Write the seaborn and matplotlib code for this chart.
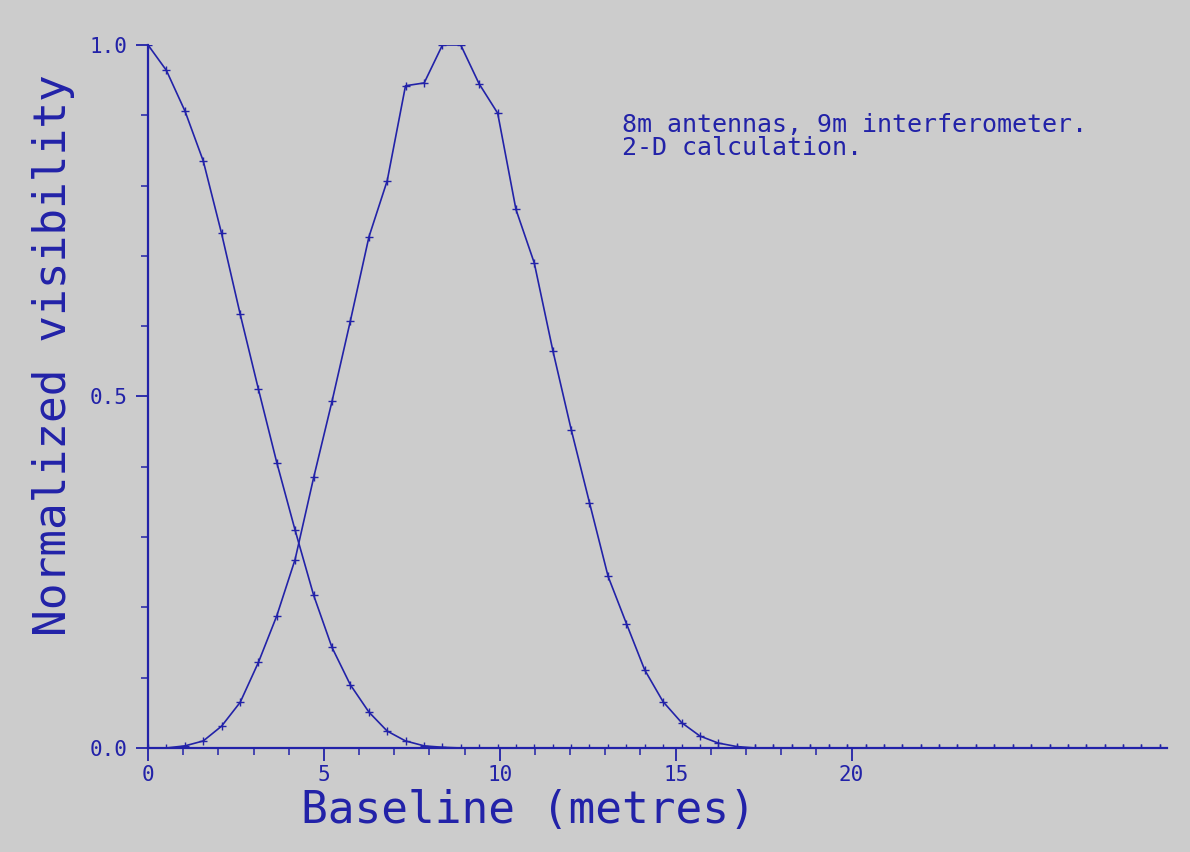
"""
Normalized visibility vs baseline for an 8m antenna / 9m interferometer
"""

import matplotlib
matplotlib.use("Agg")
import matplotlib.pyplot as plt
import seaborn as sns
import pandas as pd
from matplotlib.ticker import FixedLocator, MultipleLocator

# Baseline samples (metres)
baseline = [
    0.00, 0.52, 1.05, 1.57, 2.09, 2.62, 3.14, 3.66, 4.18, 4.71,
    5.23, 5.75, 6.28, 6.80, 7.32, 7.85, 8.37, 8.89, 9.41, 9.94,
    10.46, 10.98, 11.51, 12.03, 12.55, 13.08, 13.60, 14.12, 14.64, 15.17,
    15.69, 16.21, 16.74, 17.26, 17.78, 18.31, 18.83, 19.35, 19.87, 20.40,
    20.92, 21.44, 21.97, 22.49, 23.01, 23.54, 24.06, 24.58, 25.10, 25.63,
    26.15, 26.67, 27.20, 27.72, 28.24, 28.77,
]

# single antenna autocorrelation
antenna_vis = [
    1.000, 0.964, 0.906, 0.835, 0.732, 0.617, 0.510, 0.406, 0.310, 0.217,
    0.143, 0.090, 0.051, 0.024, 0.010, 0.003, 0.001, 0.000, 0.000, 0.000,
    0.000, 0.000, 0.000, 0.000, 0.000, 0.000, 0.000, 0.000, 0.000, 0.000,
    0.000, 0.000, 0.000, 0.000, 0.000, 0.000, 0.000, 0.000, 0.000, 0.000,
    0.000, 0.000, 0.000, 0.000, 0.000, 0.000, 0.000, 0.000, 0.000, 0.000,
    0.000, 0.000, 0.000, 0.000, 0.000, 0.000,
]

# interferometer cross term
interf_vis = [
    0.000, 0.000, 0.003, 0.010, 0.031, 0.065, 0.122, 0.188, 0.268, 0.385,
    0.493, 0.607, 0.727, 0.807, 0.942, 0.946, 1.000, 1.000, 0.945, 0.903,
    0.766, 0.690, 0.565, 0.453, 0.349, 0.244, 0.177, 0.111, 0.066, 0.036,
    0.017, 0.007, 0.002, 0.000, 0.000, 0.000, 0.000, 0.000, 0.000, 0.000,
    0.000, 0.000, 0.000, 0.000, 0.000, 0.000, 0.000, 0.000, 0.000, 0.000,
    0.000, 0.000, 0.000, 0.000, 0.000, 0.000,
]

x_major = [0, 5, 10, 15, 20]
x_minor = list(range(0, 21))
y_major = [0.0, 0.5, 1.0]

BLUE = '#2222a8'
GREY = '#cccccc'

sns.set_style("ticks")
plt.rcParams['font.family'] = ['DejaVu Sans Mono', 'DejaVu Sans']

fig = plt.figure(figsize=(11.9, 8.52), dpi=100, facecolor=GREY)
ax = fig.add_axes([0.1244, 0.1221, 0.8563, 0.8251], facecolor=GREY)

df = pd.DataFrame({'baseline': baseline, 'antenna': antenna_vis, 'interf': interf_vis})

for col in ['antenna', 'interf']:
    sns.lineplot(data=df, x='baseline', y=col, ax=ax, color=BLUE,
                 linewidth=1.2, marker='+', markersize=6, markeredgewidth=1.0,
                 markeredgecolor=BLUE, sort=False)

ax.set_xlim(0, 28.97)
ax.set_ylim(0, 1.0)

ax.xaxis.set_major_locator(FixedLocator(x_major))
ax.xaxis.set_minor_locator(FixedLocator(x_minor))
ax.yaxis.set_major_locator(FixedLocator(y_major))
ax.yaxis.set_minor_locator(MultipleLocator(0.1))
ax.set_xticklabels([str(v) for v in x_major])
ax.set_yticklabels([f'{v:.1f}' for v in y_major])

for side in ['top', 'right']:
    ax.spines[side].set_visible(False)
for side in ['left', 'bottom']:
    ax.spines[side].set_color(BLUE)
    ax.spines[side].set_linewidth(1.6)

ax.tick_params(which='major', length=9, width=1.3, color=BLUE,
               labelcolor=BLUE, labelsize=15)
ax.tick_params(axis='x', which='major', pad=3)
ax.tick_params(axis='y', which='major', pad=6)
ax.tick_params(which='minor', length=5, width=1.1, color=BLUE)

ax.set_xlabel('Baseline (metres)', fontsize=32, color=BLUE)
ax.set_ylabel('Normalized visibility', fontsize=32, color=BLUE)
ax.xaxis.set_label_coords(0.373, -0.058)
ax.yaxis.set_label_coords(-0.072, 0.559)

ax.text(0.465, 0.903, '8m antennas, 9m interferometer.\n2-D calculation.',
        transform=ax.transAxes, ha='left', va='top', fontsize=18,
        color=BLUE, linespacing=0.95)

fig.savefig('out.png', dpi=100, facecolor=GREY)
